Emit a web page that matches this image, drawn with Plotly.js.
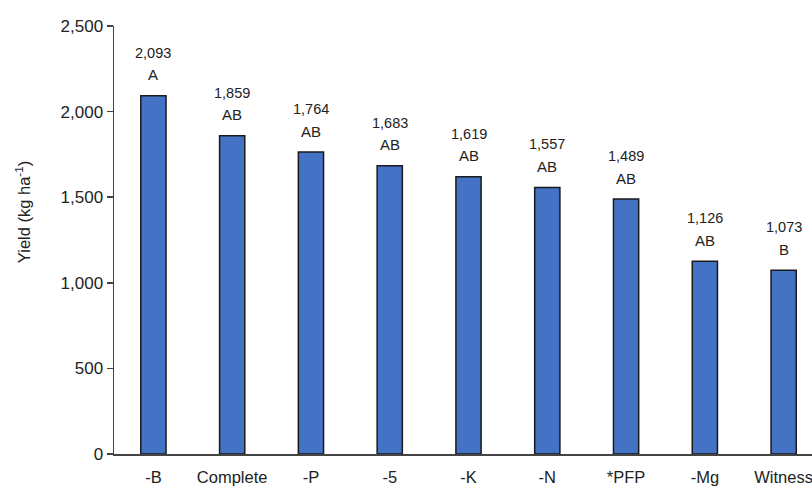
<!DOCTYPE html>
<html><head><meta charset="utf-8">
<script src="https://cdn.plot.ly/plotly-3.0.1.min.js"></script>
<style>html,body{margin:0;padding:0;background:#fff}</style>
</head><body>
<div id="chart" style="width:812px;height:489px"></div>
<script>
var categories = ["-B","Complete","-P","-5","-K","-N","*PFP","-Mg","Witness"];
var yields = [2093,1859,1764,1683,1619,1557,1489,1126,1073];
var letters = ["A","AB","AB","AB","AB","AB","AB","AB","B"];
var yTicks = [0,500,1000,1500,2000,2500];
var yTickLabels = ["0","500","1,000","1,500","2,000","2,500"];
var yTitle = 'Yield (kg ha<sup>-1</sup>)';

var fontFam = "'Liberation Sans', Arial, Helvetica, sans-serif";

var trace = {
  type: 'bar',
  x: categories,
  y: yields,
  width: 0.32,
  marker: {color: '#4472C4', line: {color: '#1a1a1a', width: 1.5}},
  hoverinfo: 'none'
};

var annotations = [];
categories.forEach(function(c, i){
  annotations.push({
    x: i, y: yields[i], xref: 'x', yref: 'y',
    text: yields[i].toLocaleString('en-US'),
    showarrow: false, yanchor: 'middle', yshift: 43,
    font: {family: fontFam, size: 14.5, color: '#222'}
  });
  annotations.push({
    x: i, y: yields[i], xref: 'x', yref: 'y',
    text: letters[i],
    showarrow: false, yanchor: 'middle', yshift: 21,
    font: {family: fontFam, size: 15, color: '#222'}
  });
});
annotations.push({
  x: 0, y: 0.565, xref: 'paper', yref: 'paper',
  xanchor: 'center', yanchor: 'middle', xshift: -91,
  text: yTitle, textangle: -90, showarrow: false,
  font: {family: fontFam, size: 16.5, color: '#222'}
});

var layout = {
  width: 812, height: 489,
  margin: {l: 114, r: 0, t: 26, b: 35},
  paper_bgcolor: '#fff', plot_bgcolor: '#fff',
  showlegend: false,
  font: {family: fontFam, size: 16, color: '#222'},
  annotations: annotations,
  xaxis: {
    type: 'category',
    range: [-0.5, 8.36],
    showline: true, linecolor: '#444', linewidth: 1.5,
    ticks: '', showgrid: false, zeroline: false,
    ticklabelstandoff: 8,
    tickfont: {family: fontFam, size: 16.5, color: '#222'}
  },
  yaxis: {
    range: [0, 2500],
    tickvals: yTicks, ticktext: yTickLabels,
    showline: true, linecolor: '#444', linewidth: 1.5,
    ticks: 'outside', ticklen: 6, tickcolor: '#444', tickwidth: 1.5,
    showgrid: false, zeroline: false,
    tickfont: {family: fontFam, size: 17, color: '#222'}
  }
};

Plotly.newPlot('chart', [trace], layout, {displayModeBar: false, staticPlot: true});
</script>
</body></html>
